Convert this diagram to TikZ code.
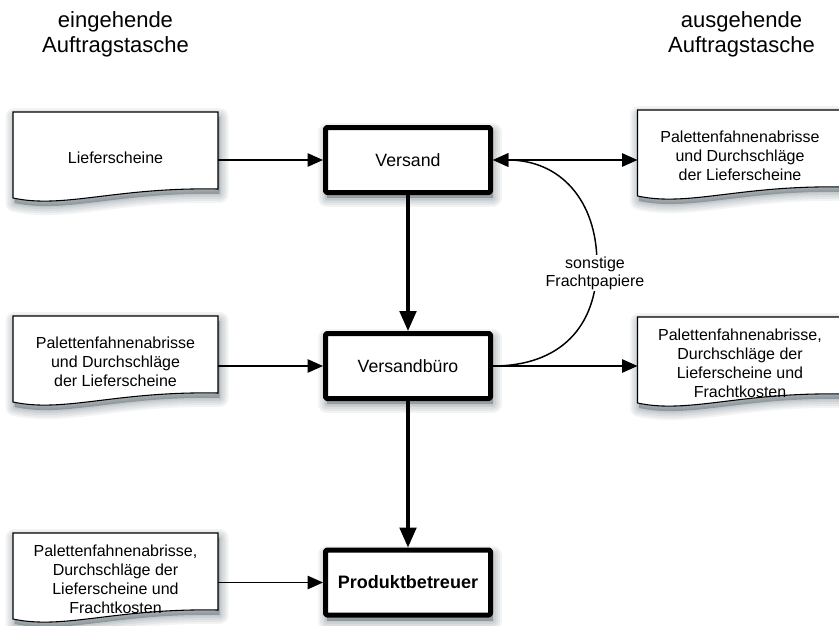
\documentclass[tikz,border=0pt]{standalone}
\usepackage{fontspec}
\setmainfont{Liberation Sans}
\usetikzlibrary{arrows.meta}

\definecolor{shadecol}{RGB}{28,48,58}

% soft drop shadow of a shape (#1) placed at coordinate #2
\newcommand\castshadow[2]{%
  \begin{scope}[shift={(#2)},shift={(1.5,5)}]
    \foreach \w in {18,14,10,6,3}{%
      \path[draw=shadecol,line width=\w*0.75pt,draw opacity=0.06,line join=round,#1];}
    \path[fill=shadecol,fill opacity=0.3,#1];
  \end{scope}}

% paper sheet with a wavy lower edge at coordinate #1
\newcommand\sheetat[1]{%
  \castshadow{sheetshape}{#1}
  \begin{scope}[shift={(#1)}]
    \path[draw,line width=0.8pt,fill=white,sheetshape];
  \end{scope}}

\begin{document}
\begin{tikzpicture}[x=0.75pt,y=-0.75pt,
  sheetshape/.style={insert path={(-102.5,-46) -- (102.5,-46) -- (102.5,31)
      .. controls (0,29) and (-51.25,51) .. (-102.5,40) -- cycle}},
  boxshape/.style={insert path={(-83,-33) rectangle (83,33)}},
  stepbox/.style={draw,line width=3.75pt,line join=round,rounded corners=1pt,
      fill=white,minimum width=123.75pt,minimum height=48.75pt,inner sep=0pt,
      font=\fontsize{13.3}{16}\selectfont},
  sheettext/.style={minimum width=153.75pt,inner sep=0pt,outer sep=0pt,
      align=center,font=\fontsize{12}{14.25}\selectfont},
  flow/.style={line width=1.1pt,-{Triangle[length=11.5pt,width=10pt]}},
  mainflow/.style={line width=2.4pt,-{Triangle[length=15pt,width=12.5pt]}},
  header/.style={align=center,font=\fontsize{16.5}{18.75}\selectfont}]

\useasboundingbox (0,0) rectangle (839,625);

% headings of the two order pockets
\node[header] (hin) at (115.5,34) {eingehende\\Auftragstasche};
\node[header] (hout) at (741.5,34) {ausgehende\\Auftragstasche};

% positions of documents and stations
\coordinate (c1) at (115.5,158);
\coordinate (c2) at (115.5,362);
\coordinate (c3) at (115.5,579);
\coordinate (c4) at (740,156);
\coordinate (c5) at (740,363);
\coordinate (cvs) at (408,160);
\coordinate (cvb) at (408,366);
\coordinate (cpb) at (408,582.5);

% paper sheets
\sheetat{c1}
\sheetat{c2}
\sheetat{c3}
\sheetat{c4}
\sheetat{c5}

% station shadows
\castshadow{boxshape}{cvs}
\castshadow{boxshape}{cvb}
\castshadow{boxshape}{cpb}

% document texts
\node[sheettext] (d1) at (c1) {Lieferscheine};
\node[sheettext] (d2) at (c2) {Palettenfahnenabrisse\\und Durchschläge\\der Lieferscheine};
\node[sheettext] (d3) at (c3) {Palettenfahnenabrisse,\\Durchschläge der\\Lieferscheine und\\Frachtkosten};
\node[sheettext] (d4) at (c4) {Palettenfahnenabrisse\\und Durchschläge\\der Lieferscheine};
\node[sheettext] (d5) at (c5) {Palettenfahnenabrisse,\\Durchschläge der\\Lieferscheine und\\Frachtkosten};

% stations
\node[stepbox] (vs) at (cvs) {Versand};
\node[stepbox] (vb) at (cvb) {Versandbüro};
\node[stepbox,font=\fontsize{13.5}{16}\selectfont\bfseries] (pb) at (cpb) {Produktbetreuer};

% flows
\draw[flow] (d1.east |- vs.west) -- (vs.west);
\draw[flow] (d2.east |- vb.west) -- (vb.west);
\draw[flow] (d3.east |- pb.west) -- (pb.west);
\draw[line width=1.1pt,{Triangle[length=11.5pt,width=10pt]}-{Triangle[length=11.5pt,width=10pt]}]
  (vs.east) -- (d4.west |- vs.east);
\draw[flow] (vb.east) -- (d5.west |- vb.east);
\draw[flow] (vb.east) .. controls (560,366) and (597,327) .. (597,264)
  .. controls (597,200) and (560,160) .. (vs.east);
\node[fill=white,inner sep=1pt,align=center,font=\fontsize{12}{13.5}\selectfont]
  (lbl) at (595,273) {sonstige\\Frachtpapiere};

\draw[mainflow] (vs.south) -- (vb.north);
\draw[mainflow] (vb.south) -- (pb.north);
\end{tikzpicture}
\end{document}
